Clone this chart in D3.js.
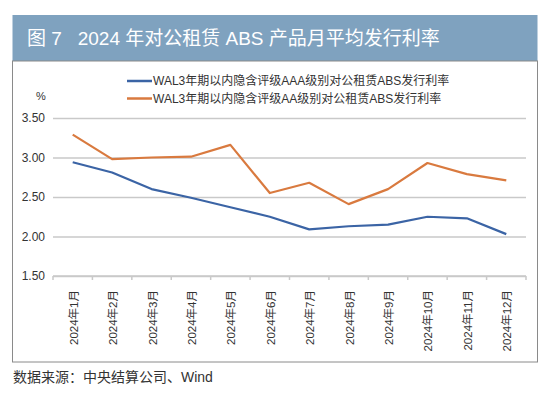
<!DOCTYPE html>
<html>
<head>
<meta charset="utf-8">
<script src="https://cdn.jsdelivr.net/npm/d3@7"></script>
<style>
  body { margin: 0; background: #fff; }
  svg text { font-family: "Liberation Sans", "Noto Sans CJK SC", sans-serif; }
</style>
</head>
<body>
<div id="chart"></div>
<script>
// data
const months = ["2024年1月","2024年2月","2024年3月","2024年4月","2024年5月","2024年6月",
                "2024年7月","2024年8月","2024年9月","2024年10月","2024年11月","2024年12月"];
const aaaRates = [2.94, 2.81, 2.60, 2.49, 2.37, 2.25, 2.09, 2.13, 2.15, 2.25, 2.23, 2.03];
const aaRates  = [3.29, 2.98, 3.00, 3.01, 3.16, 2.55, 2.68, 2.41, 2.60, 2.93, 2.79, 2.71];
const yTicks = [1.5, 2.0, 2.5, 3.0, 3.5];
const seriesNames = ["WAL3年期以内隐含评级AAA级别对公租赁ABS发行利率",
                     "WAL3年期以内隐含评级AA级别对公租赁ABS发行利率"];
const seriesColors = ["#3b64a5", "#d97a3f"];

const w = 550, h = 397;
const plot = {left: 53, right: 526, top: 118, bottom: 276};

const svg = d3.select("#chart").append("svg")
    .attr("width", w).attr("height", h);

// header band
svg.append("rect")
    .attr("x", 12.5).attr("y", 15)
    .attr("width", 525).attr("height", 46)
    .attr("fill", "#7fa2bf");
svg.append("text")
    .attr("x", 27).attr("y", 45)
    .attr("fill", "#fff")
    .attr("font-size", 19)
    .attr("xml:space", "preserve")
    .text("图 7   2024 年对公租赁 ABS 产品月平均发行利率");

// frame
svg.append("rect")
    .attr("x", 12.5).attr("y", 61)
    .attr("width", 525).attr("height", 301)
    .attr("fill", "none")
    .attr("stroke", "#8a8a8a")
    .attr("stroke-width", 1);

// scales
const x = d3.scaleBand().domain(months).range([plot.left, plot.right]);
const y = d3.scaleLinear().domain([1.5, 3.5]).range([plot.bottom, plot.top]);

// gridlines + y labels
const yAxis = d3.axisLeft(y)
    .tickValues(yTicks)
    .tickSize(-(plot.right - plot.left))
    .tickPadding(8)
    .tickFormat(d3.format(".2f"));
const gy = svg.append("g")
    .attr("transform", "translate(" + plot.left + ",0)")
    .call(yAxis);
gy.select(".domain").remove();
gy.selectAll("line").attr("stroke", "#c9c9c9").attr("stroke-width", 1.5);
gy.selectAll("text").attr("font-size", 12).attr("fill", "#333");

// x axis with small ticks between categories
const gx = svg.append("g")
    .attr("transform", "translate(0," + plot.bottom + ")");
gx.append("line")
    .attr("x1", plot.left).attr("x2", plot.right)
    .attr("stroke", "#c9c9c9").attr("stroke-width", 1.5);
gx.selectAll(".tk")
    .data(months.concat(["end"]))
    .enter().append("line")
    .attr("x1", (d, i) => plot.left + i * x.step())
    .attr("x2", (d, i) => plot.left + i * x.step())
    .attr("y1", 0).attr("y2", 4)
    .attr("stroke", "#c9c9c9").attr("stroke-width", 1.5);
gx.selectAll(".lbl")
    .data(months)
    .enter().append("text")
    .attr("transform", d => "translate(" + (x(d) + x.bandwidth() / 2 + 1) + ",14) rotate(-90)")
    .attr("dy", "0.35em")
    .attr("text-anchor", "end")
    .attr("font-size", 11.5)
    .attr("fill", "#333")
    .text(d => d);

// lines
const line = d3.line()
    .x((d, i) => x(months[i]) + x.bandwidth() / 2)
    .y(d => y(d));
[aaaRates, aaRates].forEach((s, k) => {
  svg.append("path")
      .datum(s)
      .attr("d", line)
      .attr("fill", "none")
      .attr("stroke", seriesColors[k])
      .attr("stroke-width", 2.2)
      .attr("stroke-linejoin", "round");
});

// legend
seriesNames.forEach((name, k) => {
  const ly = 81 + k * 17.5;
  svg.append("line")
      .attr("x1", 127).attr("x2", 152)
      .attr("y1", ly).attr("y2", ly)
      .attr("stroke", seriesColors[k]).attr("stroke-width", 2.5);
  svg.append("text")
      .attr("x", 153).attr("y", ly)
      .attr("dy", "0.35em")
      .attr("font-size", 12)
      .attr("fill", "#333")
      .text(name);
});

// unit
svg.append("text")
    .attr("x", 41).attr("y", 100)
    .attr("text-anchor", "middle")
    .attr("font-size", 11)
    .attr("fill", "#333")
    .text("%");

// source
svg.append("text")
    .attr("x", 13).attr("y", 382)
    .attr("font-size", 14)
    .attr("fill", "#333")
    .text("数据来源：中央结算公司、Wind");
</script>
</body>
</html>
